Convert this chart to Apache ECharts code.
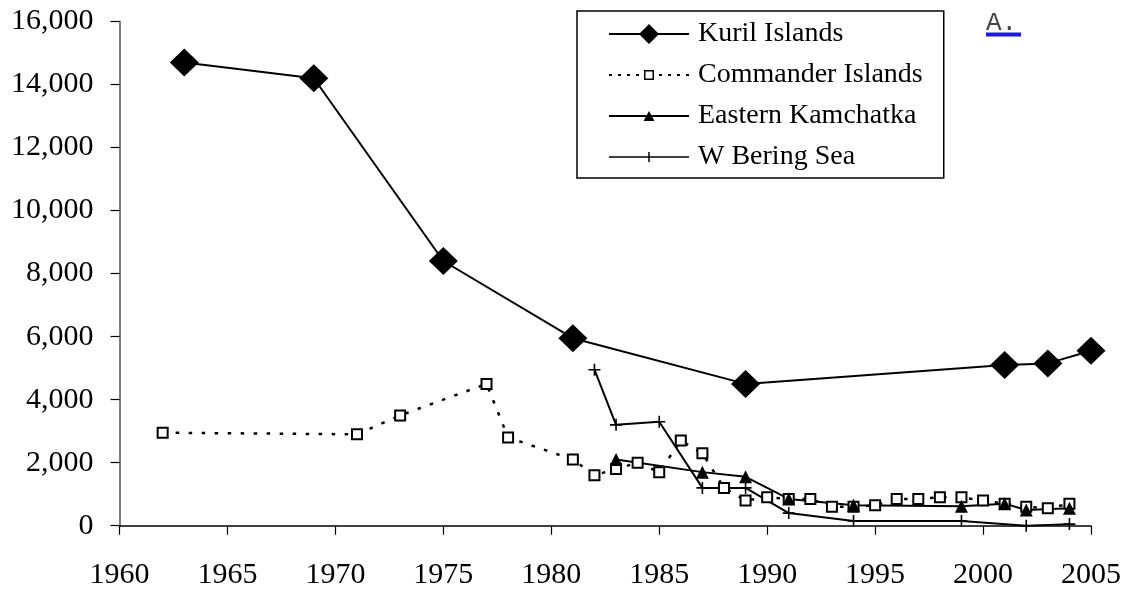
<!DOCTYPE html>
<html>
<head>
<meta charset="utf-8">
<script src="https://cdn.jsdelivr.net/npm/echarts@6/dist/echarts.min.js"></script>
<style>
  html, body { margin: 0; padding: 0; background: #fff; }
  #chart { width: 1131px; height: 592px; }
</style>
</head>
<body>
<div id="chart"></div>
<script>
// values
var kurilYears = [1963, 1969, 1975, 1981, 1989, 2001, 2003, 2005]
var kurilValues = [14700, 14200, 8400, 5950, 4500, 5100, 5150, 5550]

var commanderYears = [1962, 1971, 1973, 1977, 1978, 1981, 1982, 1983, 1984, 1985, 1986, 1987, 1988, 1989, 1990,
  1991, 1992, 1993, 1994, 1995, 1996, 1997, 1998, 1999, 2000, 2001, 2002, 2003, 2004]
var commanderValues = [2950, 2900, 3500, 4500, 2800, 2100, 1600, 1800, 2000, 1700, 2700, 2300, 1200, 800, 900,
  850, 850, 600, 600, 650, 850, 850, 900, 900, 800, 700, 600, 550, 700]

var kamchatkaYears = [1983, 1987, 1989, 1991, 1994, 1999, 2001, 2002, 2004]
var kamchatkaValues = [2100, 1700, 1550, 850, 650, 620, 700, 500, 550]

var beringYears = [1982, 1983, 1985, 1987, 1989, 1991, 1994, 1999, 2002, 2004]
var beringValues = [4950, 3200, 3300, 1200, 1200, 400, 150, 150, 0, 50]

var seriesNames = ['Kuril Islands', 'Commander Islands', 'Eastern Kamchatka', 'W Bering Sea']

function pairs(xs, ys) {
  return xs.map(function (x, i) { return [x, ys[i]] })
}

var FONT = '"Liberation Serif", "Times New Roman", serif'
var PLUS = 'path://M5.2,0H6.8V5.2H12V6.8H6.8V12H5.2V6.8H0V5.2H5.2Z'

// legend icons: line + marker in one path (80px wide)
var iconKuril = 'path://M0,9H80V11H0Z M40,0L50,10L40,20L30,10Z'
var iconCommander = 'path://M0,4H3V6H0Z M9,4H12V6H9Z M18,4H21V6H18Z M27,4H30V6H27Z' +
  ' M35,0H45V10H35Z M36.5,1.5V8.5H43.5V1.5Z' +
  ' M50,4H53V6H50Z M59,4H62V6H59Z M68,4H71V6H68Z M77,4H80V6H77Z'
var iconKamchatka = 'path://M0,4H80V6H0Z M40,0L45.5,10L34.5,10Z'
var iconBering = 'path://M0,4.25H80V5.75H0Z M39.25,0H40.75V10H39.25Z'

var chart = echarts.init(document.getElementById('chart'), null, { renderer: 'canvas' })

var option = {
  animation: false,
  backgroundColor: '#fff',
  grid: {
    left: 119.5,
    right: 40,
    top: 21.5,
    bottom: 66.3
  },
  legend: {
    orient: 'vertical',
    left: 577,
    top: 11,
    padding: [8, 21, 6, 32],
    borderColor: '#000',
    borderWidth: 1.5,
    itemWidth: 80,
    itemHeight: 20,
    itemGap: 11,
    selectedMode: false,
    textStyle: {
      fontFamily: FONT,
      fontSize: 28,
      lineHeight: 30,
      color: '#000',
      padding: [0, 0, 0, 4]
    },
    data: [
      { name: seriesNames[0], icon: iconKuril, itemStyle: { color: '#000', borderWidth: 0 } },
      { name: seriesNames[1], icon: iconCommander, itemStyle: { color: '#000', borderWidth: 0 } },
      { name: seriesNames[2], icon: iconKamchatka, itemStyle: { color: '#000', borderWidth: 0 } },
      { name: seriesNames[3], icon: iconBering, itemStyle: { color: '#000', borderWidth: 0 } }
    ]
  },
  xAxis: {
    type: 'value',
    min: 1960,
    max: 2005,
    interval: 5,
    splitLine: { show: false },
    axisLine: { show: true, lineStyle: { color: '#000', width: 1.5 } },
    axisTick: { show: true, length: 9, lineStyle: { color: '#000', width: 1.2 } },
    axisLabel: {
      margin: 34,
      fontFamily: FONT,
      fontSize: 30,
      color: '#000',
      formatter: function (v) { return String(v) }
    }
  },
  yAxis: {
    type: 'value',
    min: 0,
    max: 16000,
    interval: 2000,
    splitLine: { show: false },
    axisLine: { show: true, lineStyle: { color: '#808080', width: 2 } },
    axisTick: { show: true, length: 9, lineStyle: { color: '#000', width: 1.2 } },
    axisLabel: {
      margin: 26,
      fontFamily: FONT,
      fontSize: 30,
      color: '#000',
      formatter: function (v) { return v.toLocaleString('en-US') }
    }
  },
  graphic: [
    {
      type: 'text',
      left: 986,
      top: 10,
      style: { text: 'A.', font: '26px "Liberation Mono", monospace', fill: '#444' }
    },
    {
      type: 'rect',
      shape: { x: 986, y: 32.5, width: 35, height: 4 },
      style: { fill: '#1a1ae6' }
    }
  ],
  series: [
    {
      name: seriesNames[0],
      type: 'line',
      data: pairs(kurilYears, kurilValues),
      symbol: 'diamond',
      symbolSize: [29, 28],
      lineStyle: { color: '#000', width: 2 },
      itemStyle: { color: '#000' }
    },
    {
      name: seriesNames[1],
      type: 'line',
      data: pairs(commanderYears, commanderValues),
      symbol: 'rect',
      symbolSize: 10,
      lineStyle: { color: '#000', width: 2.5, type: [3.5, 9.5] },
      itemStyle: { color: '#fff', borderColor: '#000', borderWidth: 2 }
    },
    {
      name: seriesNames[2],
      type: 'line',
      data: pairs(kamchatkaYears, kamchatkaValues),
      symbol: 'triangle',
      symbolSize: 13,
      lineStyle: { color: '#000', width: 2 },
      itemStyle: { color: '#000' }
    },
    {
      name: seriesNames[3],
      type: 'line',
      data: pairs(beringYears, beringValues),
      symbol: PLUS,
      symbolSize: 12,
      lineStyle: { color: '#000', width: 2 },
      itemStyle: { color: '#000' }
    }
  ]
}

chart.setOption(option)
window.addEventListener('resize', function () { chart.resize() })
</script>
</body>
</html>
